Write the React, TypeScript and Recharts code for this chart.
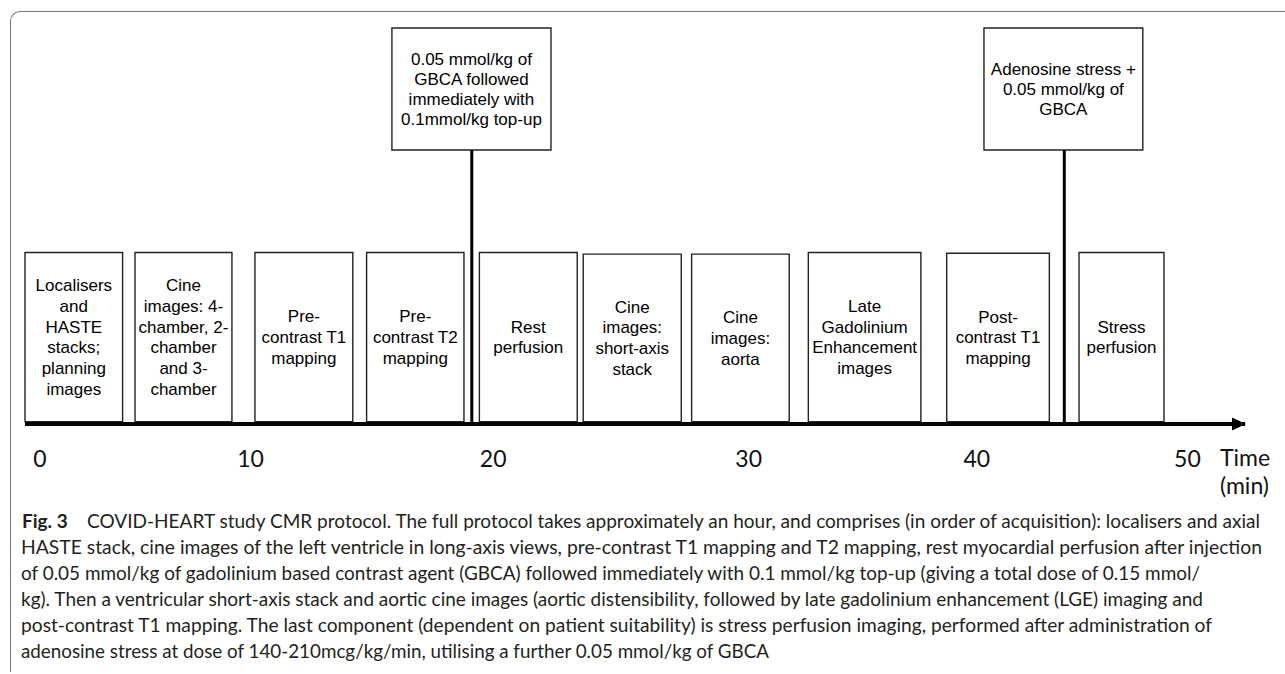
import { ComposedChart, XAxis, YAxis, ReferenceArea, ReferenceLine, ReferenceDot } from "recharts"

// protocol steps, in minutes along the time axis
const stepLabels = [
  ["Localisers", "and", "HASTE", "stacks;", "planning", "images"],
  ["Cine", "images: 4-", "chamber, 2-", "chamber", "and 3-", "chamber"],
  ["Pre-", "contrast T1", "mapping"],
  ["Pre-", "contrast T2", "mapping"],
  ["Rest", "perfusion"],
  ["Cine", "images:", "short-axis", "stack"],
  ["Cine", "images:", "aorta"],
  ["Late", "Gadolinium", "Enhancement", "images"],
  ["Post-", "contrast T1", "mapping"],
  ["Stress", "perfusion"],
]
const stepStart = [0, 4.78, 9.99, 14.84, 19.74, 24.25, 28.96, 34.03, 40.04, 45.79]
const stepEnd = [4.24, 8.99, 14.24, 19.07, 23.99, 28.51, 33.2, 38.92, 44.5, 49.48]
const stepTop = [43.3, 43.3, 43.3, 43.3, 43.3, 42.9, 42.9, 43.3, 43.1, 43.3]
const stepBase = 0.6

// contrast injections
const injectionAt = [19.41, 45.15]
const injectionLabels = [
  ["0.05 mmol/kg of", "GBCA followed", "immediately with", "0.1mmol/kg top-up"],
  ["Adenosine stress +", "0.05 mmol/kg of", "GBCA"],
]
const calloutStart = [15.94, 41.66]
const calloutEnd = [22.85, 48.56]
const calloutBottom = 69.2
const calloutTop = 100

const tickAt = [0.65, 9.8, 20.34, 31.44, 41.35, 50.5]
const tickText = ["0", "10", "20", "30", "40", "50"]
const axisEnd = 53

const captionLines = [
  "COVID-HEART study CMR protocol. The full protocol takes approximately an hour, and comprises (in order of acquisition): localisers and axial",
  "HASTE stack, cine images of the left ventricle in long-axis views, pre-contrast T1 mapping and T2 mapping, rest myocardial perfusion after injection",
  "of 0.05 mmol/kg of gadolinium based contrast agent (GBCA) followed immediately with 0.1 mmol/kg top-up (giving a total dose of 0.15 mmol/",
  "kg). Then a ventricular short-axis stack and aortic cine images (aortic distensibility, followed by late gadolinium enhancement (LGE) imaging and",
  "post-contrast T1 mapping. The last component (dependent on patient suitability) is stress perfusion imaging, performed after administration of",
  "adenosine stress at dose of 140-210mcg/kg/min, utilising a further 0.05 mmol/kg of GBCA",
]
const captionRight = [1260, 1262, 1200, 1203, 1212, 769]

const boxFont = "'Liberation Sans', Arial, sans-serif"

const stacked = (lines: string[], lineH: number) => (props: any) => {
  const { x, y, width, height } = props.viewBox
  const cx = x + width / 2
  const y0 = y + height / 2 - ((lines.length - 1) * lineH) / 2
  return (
    <text textAnchor="middle" fontFamily={boxFont} fontSize={17} fill="#000">
      {lines.map((l, i) => (
        <tspan key={i} x={cx} y={y0 + i * lineH} dy="0.35em">
          {l}
        </tspan>
      ))}
    </text>
  )
}

const TimeTick = ({ x, y, payload }: any) => {
  const i = tickAt.indexOf(payload.value)
  return (
    <text x={x} y={y + 40.5} textAnchor="middle" fontFamily="Lato, sans-serif" fontSize={23} fill="#111">
      {tickText[i]}
    </text>
  )
}

const TimeLabel = (props: any) => {
  const { x, y, width } = props.viewBox
  const lx = x + width - 25
  return (
    <text fontFamily="Lato, sans-serif" fontSize={23} fill="#111">
      <tspan x={lx} y={y + 42}>Time</tspan>
      <tspan x={lx} y={y + 70}>(min)</tspan>
    </text>
  )
}

const Arrow = ({ cx, cy }: any) => (
  <polygon points={`${cx + 1},${cy} ${cx - 13},${cy - 6.5} ${cx - 13},${cy + 6.5}`} fill="#000" />
)

export default function App() {
  return (
    <div style={{ position: "absolute", left: 0, top: 0, width: 1285, height: 674, background: "#fff", overflow: "hidden" }}>
      <div
        style={{
          position: "absolute",
          left: 10,
          top: 11,
          width: 1300,
          height: 660,
          borderLeft: "1.5px solid #777",
          borderTop: "1.5px solid #777",
          borderTopLeftRadius: 10,
        }}
      />
      <div style={{ position: "absolute", left: 0, top: 0 }}>
        <ComposedChart width={1285} height={500} data={[]} margin={{ top: 28, right: 40, left: 25, bottom: 16 }}>
          <XAxis
            type="number"
            dataKey="t"
            domain={[0, axisEnd]}
            allowDataOverflow
            ticks={tickAt}
            interval={0}
            tick={<TimeTick />}
            tickLine={false}
            tickSize={0}
            axisLine={{ stroke: "#000", strokeWidth: 4 }}
            height={60}
            label={{ content: TimeLabel }}
          />
          <YAxis type="number" domain={[0, 100]} hide allowDataOverflow />
          {injectionAt.map((t, i) => (
            <ReferenceLine
              key={"inj" + i}
              segment={[
                { x: t, y: 0 },
                { x: t, y: calloutBottom },
              ]}
              stroke="#000"
              strokeWidth={3}
              ifOverflow="visible"
            />
          ))}
          {stepLabels.map((lines, i) => (
            <ReferenceArea
              key={"step" + i}
              x1={stepStart[i]}
              x2={stepEnd[i]}
              y1={stepBase}
              y2={stepTop[i]}
              fill="#fff"
              fillOpacity={1}
              stroke="#222"
              strokeWidth={1.4}
              ifOverflow="visible"
              label={{ content: stacked(lines, 20.8) }}
            />
          ))}
          {injectionLabels.map((lines, i) => (
            <ReferenceArea
              key={"call" + i}
              x1={calloutStart[i]}
              x2={calloutEnd[i]}
              y1={calloutBottom}
              y2={calloutTop}
              fill="#fff"
              fillOpacity={1}
              stroke="#222"
              strokeWidth={1.4}
              ifOverflow="visible"
              label={{ content: stacked(lines, 20) }}
            />
          ))}
          <ReferenceDot x={axisEnd} y={0} r={6} shape={<Arrow />} ifOverflow="visible" />
        </ComposedChart>
      </div>
      <svg width={1285} height={674} style={{ position: "absolute", left: 0, top: 0 }}>
        <text x={22} y={528} fontFamily="Lato, sans-serif" fontWeight={700} fontSize={19} fill="#231f20">
          Fig. 3
        </text>
        {captionLines.map((line, i) => {
          const x0 = i === 0 ? 87 : 21
          return (
            <text
              key={i}
              x={x0}
              y={528 + i * 26}
              fontFamily="Lato, sans-serif"
              fontSize={19}
              fill="#231f20"
              textLength={captionRight[i] - x0}
              lengthAdjust="spacingAndGlyphs"
            >
              {line}
            </text>
          )
        })}
      </svg>
    </div>
  )
}
